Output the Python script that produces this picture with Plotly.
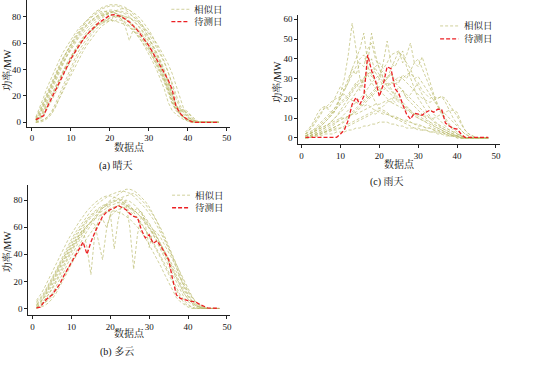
import plotly.graph_objects as go

x_points = list(range(1, 49))

# ---------------- (a) 晴天 ----------------
sunny_forecast = [2, 3.5, 5, 12, 18, 25, 31, 37, 43, 48, 53, 58, 62, 66, 69, 72, 75, 77, 79, 81,
                  81.5, 81, 80, 78, 76, 73, 70, 66, 62, 58, 53, 48, 43, 38, 32, 25, 12, 7, 4, 2,
                  0.5, 0, 0, 0, 0, 0, 0, 0]
sunny_s1 = [3, 8, 15, 22, 29, 36, 42, 48, 54, 59, 64, 68, 72, 76, 79, 82, 84, 86, 87, 88, 88, 88, 87, 85,
            83, 80, 77, 73, 69, 64, 58, 52, 45, 38, 30, 22, 14, 8, 4, 2, 1, 0, 0, 0, 0, 0, 0, 0]
sunny_s2 = [2, 6, 12, 19, 26, 33, 39, 45, 51, 56, 61, 65, 69, 73, 76, 79, 81, 83, 84, 85, 85, 84, 83, 82,
            80, 77, 74, 70, 66, 61, 56, 50, 44, 37, 29, 20, 12, 7, 4, 2, 1, 0, 0, 0, 0, 0, 0, 0]
sunny_s3 = [0, 1, 2, 4, 8, 14, 21, 28, 35, 42, 48, 54, 59, 63, 67, 71, 74, 76, 78, 79, 80, 80, 79, 78,
            76, 73, 70, 66, 62, 57, 52, 46, 40, 33, 25, 15, 9, 6, 4, 2, 1, 0, 0, 0, 0, 0, 0, 0]
sunny_s4 = [1, 4, 9, 15, 22, 28, 34, 40, 45, 50, 55, 59, 63, 66, 69, 72, 74, 75, 76, 77, 77, 76, 75, 74,
            72, 69, 66, 62, 58, 54, 49, 43, 37, 30, 22, 14, 9, 6, 4, 2, 1, 0, 0, 0, 0, 0, 0, 0]
sunny_s5 = [2, 5, 10, 17, 24, 31, 38, 44, 50, 55, 60, 64, 67, 71, 74, 77, 79, 81, 82, 80, 83, 82, 78, 72,
            62, 70, 71, 68, 64, 59, 54, 48, 42, 35, 27, 19, 12, 10, 9, 6, 3, 1, 0, 0, 0, 0, 0, 0]
sunny_s6 = [1, 3, 7, 12, 18, 25, 32, 38, 44, 50, 55, 60, 64, 68, 72, 75, 78, 80, 82, 83, 84, 84, 84, 83,
            82, 80, 78, 75, 71, 67, 62, 57, 51, 45, 38, 30, 21, 13, 8, 4, 2, 1, 0, 0, 0, 0, 0, 0]
sunny_s7 = [2, 6, 13, 20, 27, 34, 40, 46, 52, 57, 62, 66, 70, 73, 76, 78, 80, 81, 82, 82, 81, 80, 78, 76,
            73, 70, 66, 62, 57, 52, 46, 40, 33, 25, 15, 9, 6, 4, 2, 1, 0, 0, 0, 0, 0, 0, 0, 0]
sunny_s8 = [0, 2, 5, 10, 16, 22, 29, 35, 41, 47, 52, 57, 62, 66, 70, 73, 76, 79, 81, 83, 84, 85, 86, 86,
            85, 83, 81, 78, 74, 70, 65, 59, 53, 46, 38, 28, 18, 11, 7, 4, 2, 1, 0, 0, 0, 0, 0, 0]
sunny_s9 = [1, 3, 8, 14, 20, 27, 33, 39, 44, 49, 54, 58, 62, 66, 69, 71, 74, 76, 77, 78, 76, 78, 77, 75,
            73, 70, 67, 64, 60, 56, 51, 45, 39, 32, 24, 15, 10, 8, 10, 8, 4, 1, 0, 0, 0, 0, 0, 0]
sunny_s10 = [2, 7, 14, 21, 28, 35, 42, 48, 54, 60, 65, 69, 73, 77, 80, 83, 85, 87, 88, 89, 89, 89, 88, 87,
             85, 82, 79, 75, 70, 65, 59, 53, 46, 39, 31, 22, 13, 7, 3, 1, 0, 0, 0, 0, 0, 0, 0, 0]
sunny_s11 = [0, 0, 1, 3, 6, 11, 18, 25, 32, 39, 45, 51, 56, 61, 65, 69, 72, 75, 77, 79, 80, 81, 81, 80,
             79, 77, 74, 71, 67, 63, 58, 53, 47, 40, 32, 22, 13, 9, 6, 3, 1, 0, 0, 0, 0, 0, 0, 0]
sunny_s12 = [3, 9, 16, 23, 30, 37, 43, 49, 54, 59, 63, 67, 71, 74, 77, 79, 81, 82, 83, 83, 83, 82, 81, 79,
             77, 74, 71, 67, 63, 58, 53, 47, 41, 34, 26, 17, 11, 9, 8, 7, 5, 2, 0, 0, 0, 0, 0, 0]
sunny_s13 = [4, 11, 19, 27, 34, 41, 47, 53, 58, 63, 67, 71, 74, 77, 79, 81, 83, 84, 84, 84, 83, 82, 80, 78,
             75, 72, 68, 64, 60, 55, 50, 44, 38, 31, 24, 16, 10, 6, 3, 1, 0, 0, 0, 0, 0, 0, 0, 0]
sunny_s14 = [0, 1, 2, 4, 7, 12, 18, 24, 30, 36, 42, 48, 53, 58, 62, 66, 70, 73, 75, 77, 79, 80, 80, 80,
             79, 78, 76, 74, 71, 68, 64, 60, 55, 50, 44, 37, 28, 18, 10, 5, 2, 1, 0, 0, 0, 0, 0, 0]
sunny_similar = [sunny_s1, sunny_s2, sunny_s3, sunny_s4, sunny_s5, sunny_s6, sunny_s7,
                 sunny_s8, sunny_s9, sunny_s10, sunny_s11, sunny_s12, sunny_s13, sunny_s14]

# ---------------- (b) 多云 ----------------
cloudy_forecast = [0.5, 1, 5, 8, 10, 14, 18, 24, 29, 33, 38, 44, 49, 40, 49, 56, 62, 68, 71, 73,
                   74, 76, 74.5, 73, 70, 68, 67, 58, 52, 54.5, 48, 50, 46, 41, 36, 22, 10, 7.5, 6.5, 5.8,
                   5.2, 4.8, 3, 1.5, 0.5, 0.3, 0.2, 0.1]
cloudy_c1 = [5, 8, 12, 17, 22, 28, 34, 40, 46, 51, 56, 60, 64, 68, 72, 75, 78, 80, 82, 84, 85, 86, 87, 86,
             85, 83, 80, 77, 74, 70, 66, 61, 56, 50, 44, 38, 32, 26, 20, 14, 9, 5, 2, 1, 0, 0, 0, 0]
cloudy_c2 = [2, 4, 8, 13, 18, 24, 30, 36, 41, 46, 51, 55, 58, 45, 25, 55, 66, 70, 72, 74, 75, 76, 75, 74,
             72, 69, 66, 62, 58, 54, 49, 44, 39, 33, 27, 21, 15, 10, 6, 3, 1, 0, 0, 0, 0, 0, 0, 0]
cloudy_c3 = [1, 3, 6, 10, 15, 20, 26, 32, 38, 43, 48, 53, 57, 61, 64, 62, 50, 36, 58, 70, 74, 76, 77, 76,
             75, 73, 70, 67, 63, 59, 55, 50, 45, 40, 34, 28, 22, 16, 11, 7, 4, 2, 1, 0, 0, 0, 0, 0]
cloudy_c4 = [3, 6, 10, 15, 20, 26, 32, 38, 44, 49, 54, 58, 62, 66, 69, 72, 74, 76, 77, 70, 44, 65, 78, 80,
             79, 77, 74, 71, 67, 63, 58, 53, 47, 41, 35, 28, 22, 16, 11, 7, 4, 2, 1, 0, 0, 0, 0, 0]
cloudy_c5 = [0, 2, 4, 7, 11, 16, 21, 27, 33, 39, 45, 50, 55, 60, 64, 68, 71, 74, 76, 78, 79, 80, 80, 78,
             60, 29, 55, 68, 66, 62, 58, 53, 48, 42, 36, 30, 24, 18, 13, 9, 6, 3, 1, 0, 0, 0, 0, 0]
cloudy_c6 = [1, 2, 4, 6, 9, 13, 18, 23, 29, 35, 41, 47, 52, 57, 62, 66, 70, 74, 77, 80, 82, 84, 86, 88,
             88, 87, 85, 82, 79, 75, 70, 65, 59, 53, 46, 39, 32, 25, 19, 13, 8, 4, 2, 1, 0, 0, 0, 0]
cloudy_c7 = [4, 7, 11, 16, 21, 27, 33, 38, 43, 48, 53, 57, 61, 65, 68, 71, 73, 75, 77, 79, 80, 78, 81, 79,
             76, 72, 74, 70, 65, 60, 55, 49, 43, 37, 31, 25, 19, 13, 8, 5, 3, 1, 0, 0, 0, 0, 0, 0]
cloudy_c8 = [2, 5, 9, 14, 19, 25, 31, 36, 41, 46, 50, 54, 58, 61, 64, 66, 68, 70, 71, 72, 72, 71, 70, 68,
             66, 63, 60, 56, 52, 47, 42, 37, 31, 25, 19, 13, 8, 5, 3, 1, 0, 0, 0, 0, 0, 0, 0, 0]
cloudy_c9 = [1, 3, 6, 10, 14, 19, 24, 30, 36, 42, 47, 52, 57, 61, 64, 67, 70, 72, 74, 76, 77, 78, 78, 77,
             75, 73, 70, 72, 62, 45, 58, 56, 52, 47, 42, 36, 30, 23, 16, 10, 6, 3, 1, 0, 0, 0, 0, 0]
cloudy_c10 = [6, 10, 15, 21, 27, 33, 39, 45, 50, 55, 60, 64, 68, 72, 75, 78, 80, 82, 83, 83, 82, 81, 79, 77,
              74, 71, 67, 63, 58, 53, 48, 43, 37, 31, 25, 19, 13, 8, 4, 2, 1, 0, 0, 0, 0, 0, 0, 0]
cloudy_c11 = [0, 1, 2, 4, 7, 11, 16, 21, 27, 33, 38, 43, 48, 52, 56, 60, 63, 66, 60, 68, 71, 73, 74, 75,
              74, 72, 70, 67, 64, 60, 56, 52, 47, 42, 37, 32, 26, 21, 16, 12, 8, 5, 3, 1, 0, 0, 0, 0]
cloudy_c12 = [3, 5, 8, 12, 17, 22, 28, 34, 39, 45, 50, 55, 60, 64, 67, 70, 72, 74, 76, 77, 79, 81, 82, 83,
              84, 85, 83, 80, 77, 73, 69, 64, 58, 52, 45, 38, 30, 22, 15, 9, 5, 2, 1, 0, 0, 0, 0, 0]
cloudy_similar = [cloudy_c1, cloudy_c2, cloudy_c3, cloudy_c4, cloudy_c5, cloudy_c6,
                  cloudy_c7, cloudy_c8, cloudy_c9, cloudy_c10, cloudy_c11, cloudy_c12]

# ---------------- (c) 雨天 ----------------
rainy_forecast = [0.3, 0.3, 0.3, 0.3, 0.3, 0.3, 0.3, 0.3, 0.3, 2, 4, 9, 17, 20.5, 17, 21, 42, 34, 29, 21,
                  27, 36, 35, 25, 22.5, 17, 12, 9.5, 12.5, 12, 11.5, 13, 14, 13, 14.5, 14.5, 7.5, 6, 4.8, 4.5,
                  2, 0.3, 0.3, 0.3, 0.3, 0.3, 0.3, 0.3]
rainy_r1 = [2, 3, 4, 5, 6, 8, 10, 12, 15, 22, 30, 42, 58, 45, 30, 25, 20, 22, 18, 15, 14, 13, 11, 10,
            9, 8, 7, 6, 5, 5, 4, 4, 3, 3, 2, 2, 1, 1, 1, 0, 0, 0, 0, 0, 0, 0, 0, 0]
rainy_r2 = [1, 2, 3, 4, 6, 8, 10, 13, 17, 20, 25, 30, 35, 40, 45, 53, 38, 53, 42, 35, 30, 28, 25, 22,
            20, 18, 16, 14, 12, 10, 9, 8, 6, 5, 4, 3, 2, 1, 1, 0, 0, 0, 0, 0, 0, 0, 0, 0]
rainy_r3 = [0, 1, 2, 3, 4, 5, 7, 9, 11, 13, 15, 18, 20, 23, 26, 30, 35, 40, 33, 30, 38, 49, 38, 36,
            40, 44, 36, 30, 25, 20, 17, 14, 11, 9, 7, 5, 4, 3, 2, 1, 0, 0, 0, 0, 0, 0, 0, 0]
rainy_r4 = [0, 0, 1, 2, 3, 4, 5, 6, 8, 10, 12, 14, 16, 18, 20, 22, 25, 28, 30, 32, 28, 30, 35, 40,
            44, 38, 42, 48, 38, 40, 35, 30, 25, 20, 16, 12, 9, 6, 4, 2, 1, 0, 0, 0, 0, 0, 0, 0]
rainy_r5 = [3, 5, 8, 12, 15, 16, 14, 12, 15, 18, 20, 22, 25, 28, 24, 30, 32, 28, 25, 30, 26, 24, 22, 20,
            18, 17, 15, 14, 12, 11, 10, 9, 8, 7, 6, 5, 4, 3, 2, 1, 0, 0, 0, 0, 0, 0, 0, 0]
rainy_r6 = [1, 1, 2, 2, 3, 3, 4, 4, 5, 5, 6, 7, 8, 9, 10, 11, 12, 13, 12, 14, 13, 12, 11, 11,
            10, 9, 9, 8, 7, 7, 6, 5, 5, 4, 3, 3, 2, 2, 1, 1, 0, 0, 0, 0, 0, 0, 0, 0]
rainy_r7 = [0, 1, 1, 2, 2, 3, 3, 4, 4, 5, 5, 6, 7, 8, 9, 10, 11, 12, 14, 15, 16, 18, 20, 18,
            22, 24, 20, 22, 25, 28, 24, 22, 20, 21, 20, 21, 18, 14, 10, 7, 4, 2, 1, 0, 0, 0, 0, 0]
rainy_r8 = [1, 2, 3, 4, 5, 6, 7, 9, 11, 14, 17, 20, 23, 26, 28, 30, 32, 34, 36, 38, 35, 38, 42, 43,
            44, 41, 38, 35, 30, 26, 22, 18, 15, 12, 10, 8, 6, 4, 3, 2, 1, 0, 0, 0, 0, 0, 0, 0]
rainy_r9 = [2, 4, 6, 9, 12, 16, 15, 18, 22, 26, 24, 28, 35, 32, 38, 36, 45, 48, 40, 35, 30, 26, 24, 21,
            19, 17, 15, 13, 11, 10, 9, 8, 7, 6, 5, 4, 3, 2, 1, 1, 0, 0, 0, 0, 0, 0, 0, 0]
rainy_r10 = [0, 1, 1, 2, 2, 3, 4, 5, 6, 7, 8, 10, 12, 14, 16, 18, 20, 22, 24, 26, 28, 30, 32, 30,
             28, 32, 30, 34, 38, 36, 41, 35, 28, 22, 17, 13, 10, 7, 5, 3, 1, 0, 0, 0, 0, 0, 0, 0]
rainy_r11 = [1, 2, 3, 4, 5, 6, 7, 8, 9, 10, 10, 11, 12, 12, 13, 14, 15, 16, 17, 17, 18, 19, 18, 17,
             16, 15, 14, 13, 12, 12, 11, 11, 10, 10, 11, 12, 13, 14, 14, 13, 8, 4, 2, 1, 0, 0, 0, 0]
rainy_r12 = [1, 2, 4, 6, 8, 10, 12, 14, 16, 20, 24, 28, 32, 36, 40, 42, 36, 32, 28, 25, 22, 20, 18, 22,
             26, 24, 20, 18, 16, 14, 12, 10, 8, 6, 5, 4, 3, 2, 1, 1, 0, 0, 0, 0, 0, 0, 0, 0]
rainy_r13 = [0, 0, 1, 1, 1, 2, 2, 2, 3, 3, 3, 4, 4, 5, 5, 6, 6, 7, 7, 8, 8, 8, 7, 7,
             6, 6, 5, 5, 5, 4, 4, 4, 3, 3, 3, 2, 2, 1, 1, 1, 0, 0, 0, 0, 0, 0, 0, 0]
rainy_r14 = [0, 1, 2, 3, 4, 5, 6, 7, 8, 9, 10, 11, 12, 13, 15, 17, 19, 21, 23, 25, 24, 26, 28, 27,
             29, 30, 28, 26, 24, 22, 20, 19, 18, 19, 20, 21, 20, 17, 14, 11, 7, 4, 2, 1, 0, 0, 0, 0]
rainy_r15 = [1, 2, 3, 5, 7, 9, 11, 13, 15, 17, 19, 21, 24, 27, 30, 28, 33, 31, 35, 32, 34, 30, 33, 28,
             26, 24, 22, 20, 18, 16, 14, 12, 10, 8, 7, 6, 5, 4, 3, 2, 1, 0, 0, 0, 0, 0, 0, 0]
rainy_r16 = [0, 0, 1, 1, 2, 3, 4, 5, 6, 7, 9, 11, 13, 15, 17, 19, 21, 23, 25, 24, 26, 28, 27, 29,
             31, 30, 32, 33, 30, 31, 28, 25, 22, 19, 16, 14, 12, 10, 8, 6, 4, 2, 1, 0, 0, 0, 0, 0]
rainy_r17 = [2, 4, 7, 10, 13, 15, 17, 19, 20, 21, 22, 20, 19, 18, 17, 16, 17, 15, 14, 13, 12, 12, 11, 10,
             10, 9, 8, 8, 7, 6, 6, 5, 5, 4, 4, 3, 3, 2, 2, 1, 1, 0, 0, 0, 0, 0, 0, 0]
rainy_similar = [rainy_r1, rainy_r2, rainy_r3, rainy_r4, rainy_r5, rainy_r6, rainy_r7, rainy_r8, rainy_r9,
                 rainy_r10, rainy_r11, rainy_r12, rainy_r13, rainy_r14, rainy_r15, rainy_r16, rainy_r17]

x_ticks = [0, 10, 20, 30, 40, 50]
legend_similar = "相似日"
legend_forecast = "待测日"
x_title = "数据点"
y_title = "功率/MW"
panel_titles = ["(a) 晴天", "(b) 多云", "(c) 雨天"]

# ---------------- figure ----------------
W, H = 554, 372
FONT = "Liberation Serif, 'Noto Serif CJK SC', 'Noto Sans CJK SC', serif"
SIM_COLOR = "rgba(188,188,112,0.7)"
RED = "rgb(236,32,36)"
SIM_DASH = "3px,2px"
RED_DASH = "4px,2px"

fig = go.Figure()

panels = [
    (sunny_similar, sunny_forecast, "x", "y"),
    (cloudy_similar, cloudy_forecast, "x2", "y2"),
    (rainy_similar, rainy_forecast, "x3", "y3"),
]
for sims, fc, xa, ya in panels:
    for s in sims:
        fig.add_trace(go.Scatter(
            x=x_points, y=s, mode="lines", xaxis=xa, yaxis=ya,
            line=dict(color=SIM_COLOR, width=1, dash=SIM_DASH),
            name=legend_similar, showlegend=False))
    fig.add_trace(go.Scatter(
        x=x_points, y=fc, mode="lines", xaxis=xa, yaxis=ya,
        line=dict(color=RED, width=1.3, dash=RED_DASH),
        name=legend_forecast, showlegend=False))


def px_x(p):
    return p / W


def px_y(p):
    return 1 - p / H


axis_common = dict(showline=True, linecolor="#222", linewidth=1, ticks="outside",
                   ticklen=3, tickcolor="#222", showgrid=False, zeroline=False,
                   tickfont=dict(family=FONT, size=9, color="#111"), mirror=False)

boxes = {
    "1": dict(l=27, r=231, t=0, b=127, xr=[-1.3, 50.9], yr=[-3.3, 92.6], yt=[0, 20, 40, 60, 80]),
    "2": dict(l=28.3, r=230.5, t=185, b=315.7, xr=[-1.13, 50.7], yr=[-4.7, 91.5], yt=[0, 20, 40, 60, 80]),
    "3": dict(l=299.3, r=501.7, t=15, b=144.3, xr=[-0.87, 51.0], yr=[-3.03, 62.2], yt=[0, 10, 20, 30, 40, 50, 60]),
}
for k, bx in boxes.items():
    suf = "" if k == "1" else k
    fig.update_layout(**{
        "xaxis" + suf: dict(domain=[px_x(bx["l"]), px_x(bx["r"])], range=bx["xr"],
                            tickvals=x_ticks, anchor="y" + suf, **axis_common),
        "yaxis" + suf: dict(domain=[px_y(bx["b"]), px_y(bx["t"])], range=bx["yr"],
                            tickvals=bx["yt"], anchor="x" + suf, **axis_common),
    })

ann = []
shapes = []
title_font = dict(family=FONT, size=10, color="#111")
for (cx, cy) in [(130, 147), (130, 334), (401, 164)]:
    ann.append(dict(x=px_x(cx), y=px_y(cy), text=x_title, showarrow=False,
                    xref="paper", yref="paper", xanchor="center", yanchor="middle", font=title_font))
for (cx, cy) in [(7, 70), (7, 252), (278, 82)]:
    ann.append(dict(x=px_x(cx), y=px_y(cy), text=y_title, showarrow=False, textangle=-90,
                    xref="paper", yref="paper", xanchor="center", yanchor="middle", font=title_font))
for t, (cx, cy) in zip(panel_titles, [(116, 166), (117, 353), (388, 182)]):
    ann.append(dict(x=px_x(cx), y=px_y(cy), text=t, showarrow=False,
                    xref="paper", yref="paper", xanchor="center", yanchor="middle", font=title_font))

# manual legends: (line x0, line x1, text x, y row1, y row2)
legend_pos = [(172, 190, 193, 9.3, 21.7), (172.7, 190.7, 194, 195.7, 208.3), (441.7, 460, 464, 26, 39)]
for (x0, x1, tx, y1, y2) in legend_pos:
    for (yy, col, dsh, wd, label) in [(y1, SIM_COLOR, SIM_DASH, 1, legend_similar),
                                      (y2, RED, RED_DASH, 1.3, legend_forecast)]:
        shapes.append(dict(type="line", xref="paper", yref="paper",
                           x0=px_x(x0), x1=px_x(x1), y0=px_y(yy), y1=px_y(yy),
                           line=dict(color=col, width=wd, dash=dsh)))
        ann.append(dict(x=px_x(tx), y=px_y(yy), text=label, showarrow=False,
                        xref="paper", yref="paper", xanchor="left", yanchor="middle",
                        font=dict(family=FONT, size=9.5, color="#111")))

fig.update_layout(
    width=W, height=H, margin=dict(l=0, r=0, t=0, b=0),
    paper_bgcolor="white", plot_bgcolor="white",
    annotations=ann, shapes=shapes, showlegend=False,
    font=dict(family=FONT, size=9, color="#111"),
)

fig.write_html("out.html", config={"displayModeBar": False},
               post_script="document.body.style.margin='0';document.body.style.padding='0';")
